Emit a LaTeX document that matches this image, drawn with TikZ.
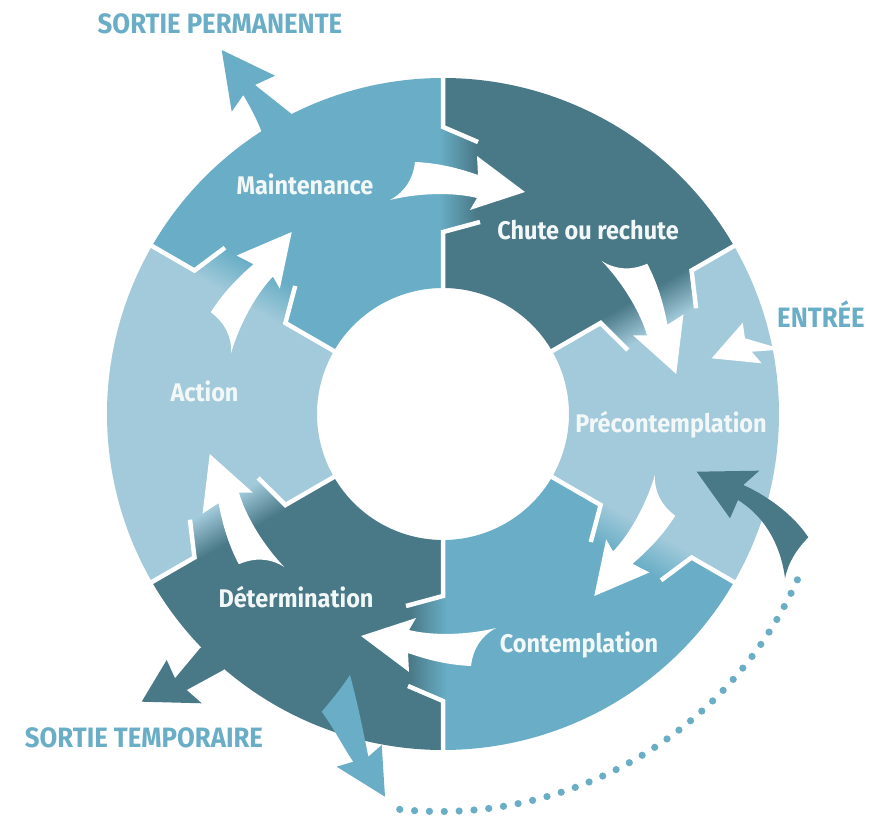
\documentclass[tikz,border=0pt]{standalone}
\usepackage{fontspec}
\newfontfamily\lblfont{Fira Sans}[FakeStretch=0.92]
\usetikzlibrary{calc}
\definecolor{cmed}{HTML}{69AEC6}
\definecolor{cdark}{HTML}{497886}
\definecolor{clight}{HTML}{A2CADA}
\definecolor{ctxt}{HTML}{F2F7F8}
\tikzset{
  seglbl/.style={font=\lblfont\bfseries\fontsize{25.5}{25.5}\selectfont, text=ctxt, inner sep=0pt, anchor=base},
  extlbl/.style={font=\lblfont\bfseries\fontsize{28}{28}\selectfont, text=cmed, inner sep=0pt, anchor=base},
  bline/.style={white, line width=4.5pt},
}
% ring sector: start angle, end angle, colour
\newcommand\ringsector[3]{%
  \fill[#3] (#1:336) arc[start angle=#1,end angle=#2,radius=336] -- (#2:126) arc[start angle=#2,end angle=#1,radius=126] -- cycle;}
% boundary: angle, colour on ccw side, colour on cw side
\newcommand\ringboundary[3]{%
  \begin{scope}[transform canvas={shift={(443,401)},rotate={#1-90}}]
    \clip (-30,287) -- (0,287) -- (35,272) -- (60,268) -- (60,190) -- (37,192) -- (0,182) -- (-30,182) -- cycle;
    \shade[left color=#2, right color=#3] (-4,170) rectangle (34,300);
  \end{scope}
  \begin{scope}[shift={(443,401)},rotate={#1-90}]
    \draw[bline] (0,340) -- (0,287) -- (35,272);
    \draw[bline] (37,192) -- (0,182) -- (0,120);
    \fill[white] (-53,214) .. controls (-38,222) and (-30,235) .. (-28,252)
      .. controls (-5,251) and (15,246) .. (35,239)
      -- (34,258) -- (82,222) -- (27,204) -- (34,216)
      .. controls (10,222) and (-25,221) .. (-53,214) -- cycle;
  \end{scope}}
\begin{document}
\begin{tikzpicture}[x=1pt,y=1pt]
\useasboundingbox (0,0) rectangle (887,815);
\fill[white] (0,0) rectangle (887,815);
% external exit arrows (merge into their sectors)
\fill[cmed] (221.7,765) -- (275,739.3) -- (255,730) -- (292,700.7) -- (300,680) -- (270,670) -- (261.7,683.3)
  .. controls (255,700) and (248,712) .. (243.3,720) -- (231.7,703.3) -- cycle;
\fill[cdark] (141.7,113.3) -- (166.7,155) -- (175,136.7) -- (200,166.7) -- (215,175) -- (235,155) -- (223.3,145) -- (186.7,125) -- (201.7,111.7) -- cycle;
% ring
\begin{scope}[shift={(443,401)}]
  \ringsector{30}{90}{cdark}
  \ringsector{90}{150}{cmed}
  \ringsector{150}{210}{clight}
  \ringsector{210}{270}{cdark}
  \ringsector{270}{330}{cmed}
  \ringsector{-30}{30}{clight}
\end{scope}
\ringboundary{90}{cmed}{cdark}
\ringboundary{30}{cdark}{clight}
\ringboundary{-30}{clight}{cmed}
\ringboundary{-90}{cmed}{cdark}
\ringboundary{-150}{cdark}{clight}
\ringboundary{150}{clight}{cmed}
% entry arrow
\fill[white] (711.7,456.7) -- (742.7,492.3) -- (745,476.7) -- (783,465.5) -- (751.7,463.3) -- (761.7,451.7) -- cycle;
% temporary exit arrow (downwards)
\fill[cmed] (350,140) .. controls (340,125) and (330,113) .. (321.7,103.3)
  .. controls (335,85) and (345,65) .. (353.3,53.3) -- (336.7,48.3) -- (385,18.3) -- (381.7,70) -- (368.3,58.3)
  .. controls (363,85) and (358,110) .. (350,140) -- cycle;
% return arrow
\fill[cdark] (696.7,343.3) -- (759.3,344.3) -- (743.3,330)
  .. controls (770,318) and (795,298) .. (808.3,277.7)
  .. controls (796,265) and (788,252) .. (785,236.7)
  .. controls (782,262) and (770,295) .. (738,315)
  -- (730,296.7) -- cycle;
% dotted return path
\foreach \i in {0,...,33}
  \fill[cmed] (440,395) ++({-95.9+\i*2.1758}:391.5) circle[radius=3.6];
% labels
\node[extlbl] (sp) at (220,781) {SORTIE PERMANENTE};
\node[extlbl] (st) at (144,68) {SORTIE TEMPORAIRE};
\node[extlbl] (en) at (821,487) {ENTRÉE};
\node[seglbl] (ma) at (305,620) {Maintenance};
\node[seglbl] (ch) at (588,575) {Chute ou rechute};
\node[seglbl] (pr) at (671,382) {Précontemplation};
\node[seglbl] (ac) at (204.5,413) {Action};
\node[seglbl] (co) at (579,163) {Contemplation};
\node[seglbl] (de) at (296,207) {Détermination};
\end{tikzpicture}
\end{document}
